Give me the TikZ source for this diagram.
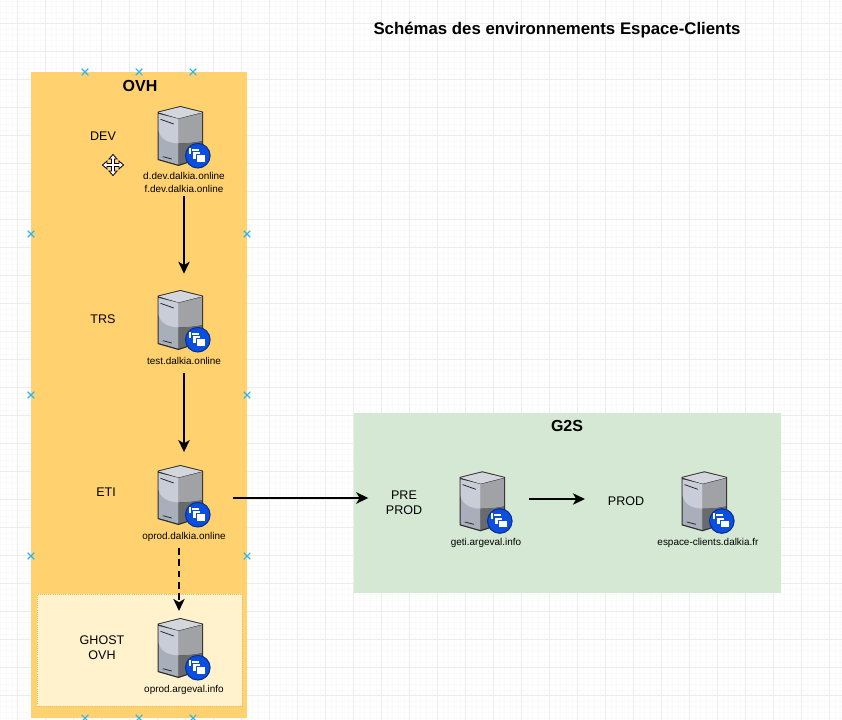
\documentclass[tikz,border=0pt]{standalone}
\usepackage{fontspec}
\setmainfont{Liberation Sans}
\usepackage{tikz}
\usetikzlibrary{arrows.meta,positioning,shapes.misc}
\definecolor{ovhfill}{HTML}{FFD26F}
\definecolor{ghostfill}{HTML}{FFF2CC}
\definecolor{ghostline}{HTML}{DCC070}
\definecolor{gtwosfill}{HTML}{D5E8D4}
\definecolor{gridmajor}{HTML}{ECECEC}
\definecolor{gridminor}{HTML}{FAFAFA}
\definecolor{mark}{HTML}{29B6F2}
\definecolor{srvedge}{HTML}{2B2B2B}
\definecolor{srvtop}{HTML}{D4D6DE}
\definecolor{srvlight}{HTML}{C9CDD8}
\definecolor{srvlow}{HTML}{A8AFBB}
\definecolor{srvside}{HTML}{A0A2A5}
\definecolor{srvdark}{HTML}{686B6E}
\definecolor{badge}{HTML}{0B4FE0}
\definecolor{badgeedge}{HTML}{0A2E8C}
\tikzset{
  serverpic/.pic={
    \fill [srvedge] (-26.5,-24.3) -- (-3.7,-30) -- (19.2,-24.3) -- (19.2,22) -- (-5.5,30) -- (-26.5,24) -- cycle;
    \fill [srvlow] (-25.5,-22) -- (-5.5,-17) -- (-5.5,28.7) -- (-25.5,23) -- cycle;
    \fill [srvlight] (-25.5,-22) -- (-5.5,-17) -- (-5.5,7.3) .. controls (-16,7) and (-24,3) .. (-25.5,-6) -- cycle;
    \fill [srvside] (-5.5,-17) -- (18.2,-23) -- (18.2,5) .. controls (10,7) and (0,7.5) .. (-5.5,7.3) -- cycle;
    \fill [srvdark] (-5.5,7.3) .. controls (0,7.5) and (10,7) .. (18.2,5) -- (18.2,21.2) -- (-5.5,28.7) -- cycle;
    \fill [srvtop] (-25.5,-23.6) -- (-3.7,-29) -- (18.2,-23.6) -- (-5.5,-17.6) -- cycle;
    \draw [line width=.6pt,srvedge] (-23.5,-16.7) -- (-10.2,-12);
    \draw [line width=.6pt,srvedge] (-21.2,20.7) -- (-12.2,23);
    \draw [draw=badgeedge,line width=.8pt,fill=badge] (13.8,19.7) circle (12.3);
    \fill [white] (4.5,12) rectangle (6.5,18);
    \fill [white] (7.5,13) rectangle (15,15);
    \draw [draw=badge,fill=white,line width=.4pt] (8.5,15.5) rectangle (16,23);
    \draw [draw=badge,fill=white,line width=.4pt] (12,18.5) rectangle (21.5,26);
  }
}
\begin{document}
\begin{tikzpicture}
[align=center,x=.75pt,y=-.75pt]
\tikzstyle{area}=[inner sep=0pt,outer sep=0pt,anchor=north west]
\tikzstyle{srvbox}=[inner sep=0pt,minimum width=39.75pt,minimum height=45pt]
\tikzstyle{envlbl}=[inner sep=0pt,font=\fontsize{9.4}{11.2}\selectfont]
\tikzstyle{boxlbl}=[inner sep=0pt,font=\fontsize{12}{13}\selectfont\bfseries]
\tikzstyle{urllbl}=[inner sep=0pt,font=\fontsize{7.45}{9.75}\selectfont]
\tikzstyle{flow}=[line width=1.5pt,-{Stealth[length=9pt,width=8.5pt,inset=2.5pt]}]
\tikzstyle{tick}=[cross out,draw=mark,line width=.8pt,inner sep=0pt,minimum size=4.2pt]

\useasboundingbox (0,0) rectangle (842,720);
\fill [white] (0,0) rectangle (842,720);
\foreach \i in {0,...,150} \draw [gridminor,line width=.5pt] ({.7+5.6*\i},0) -- ({.7+5.6*\i},720);
\foreach \i in {0,...,130} \draw [gridminor,line width=.5pt] (0,{1.1+5.6*\i}) -- (842,{1.1+5.6*\i});
\foreach \i in {0,...,29} \draw [gridmajor,line width=.75pt] ({17.5+28*\i},0) -- ({17.5+28*\i},720);
\foreach \i in {0,...,25} \draw [gridmajor,line width=.75pt] (0,{23.5+28*\i}) -- (842,{23.5+28*\i});

\node [area,fill=ovhfill,minimum width=162pt,minimum height=484.5pt] (ovh) at (31,72) {};
\node [area,fill=ghostfill,draw=ghostline,densely dotted,line width=.6pt,minimum width=153.75pt,minimum height=84pt] (ghost) at (37,594) {};
\node [area,fill=gtwosfill,minimum width=320.25pt,minimum height=135pt] (gtwos) at (354,413) {};

\node [boxlbl,font=\fontsize{12.6}{14}\selectfont\bfseries] (title) at (557,30) {Schémas des environnements Espace-Clients};
\node [boxlbl] (ovhlbl) at (140,86) {OVH};
\node [boxlbl] (gtwoslbl) at (567,426) {G2S};

\node [srvbox] (dev) at (184,136) {};
\node [srvbox] (trs) at (184,320) {};
\node [srvbox] (eti) at (184,495) {};
\node [srvbox] (ghostsrv) at (184,648) {};
\node [srvbox] (geti) at (486,501.3) {};
\node [srvbox] (prod) at (708,501.3) {};
\pic at (dev) {serverpic};
\pic at (trs) {serverpic};
\pic at (eti) {serverpic};
\pic at (ghostsrv) {serverpic};
\pic at (geti) {serverpic};
\pic at (prod) {serverpic};

\node [urllbl,below=4.6pt of dev] (devurl) {d.dev.dalkia.online\\f.dev.dalkia.online};
\node [urllbl,below=5pt of trs] (trsurl) {test.dalkia.online};
\node [urllbl,below=5pt of eti] (etiurl) {oprod.dalkia.online};
\node [urllbl,below=5pt of ghostsrv] (ghosturl) {oprod.argeval.info};
\node [urllbl,below=5pt of geti] (getiurl) {geti.argeval.info};
\node [urllbl,below=5pt of prod] (produrl) {espace-clients.dalkia.fr};

\node [envlbl] (devlbl) at (103,136) {DEV};
\node [envlbl] (trslbl) at (103,319) {TRS};
\node [envlbl] (etilbl) at (106,492) {ETI};
\node [envlbl] (ghostlbl) at (102,648) {GHOST\\OVH};
\node [envlbl] (prelbl) at (404,503) {PRE\\PROD};
\node [envlbl] (prodlbl) at (626,501) {PROD};

\draw [flow,shorten <=2pt,shorten >=12pt] (devurl) -- (trs);
\draw [flow,shorten <=6.5pt,shorten >=9.5pt] (trsurl) -- (eti);
\draw [flow,shorten <=16.5pt,shorten >=13pt] (eti.east |- 0,498) -- (prelbl.west |- 0,498);
\draw [flow,shorten <=12.5pt,shorten >=17pt] (geti.east |- 0,499) -- (prodlbl.west |- 0,499);
\draw [flow,dash pattern=on 5pt off 3.5pt,shorten <=9.75pt,shorten >=5.3pt] (179,535) -- (179,618);

\node [tick] (m1) at (85,72) {};
\node [tick] (m2) at (139,72) {};
\node [tick] (m3) at (193,72) {};
\node [tick] (m4) at (31,234) {};
\node [tick] (m5) at (247,234) {};
\node [tick] (m6) at (31,395) {};
\node [tick] (m7) at (247,395) {};
\node [tick] (m8) at (31,556) {};
\node [tick] (m9) at (247,556) {};
\node [tick] (m10) at (85,718) {};
\node [tick] (m11) at (139,718) {};
\node [tick] (m12) at (193,718) {};

% move cursor
\begin{scope}[shift={(113,165)}]
\draw [fill=white,line width=.6pt,line join=miter] (0,-10.5) -- (4,-6) -- (1.5,-6) -- (1.5,-1.5) -- (6,-1.5) -- (6,-4) -- (10.5,0) -- (6,4) -- (6,1.5) -- (1.5,1.5) -- (1.5,6) -- (4,6) -- (0,10.5) -- (-4,6) -- (-1.5,6) -- (-1.5,1.5) -- (-6,1.5) -- (-6,4) -- (-10.5,0) -- (-6,-4) -- (-6,-1.5) -- (-1.5,-1.5) -- (-1.5,-6) -- (-4,-6) -- cycle;
\end{scope}
\end{tikzpicture}
\end{document}
